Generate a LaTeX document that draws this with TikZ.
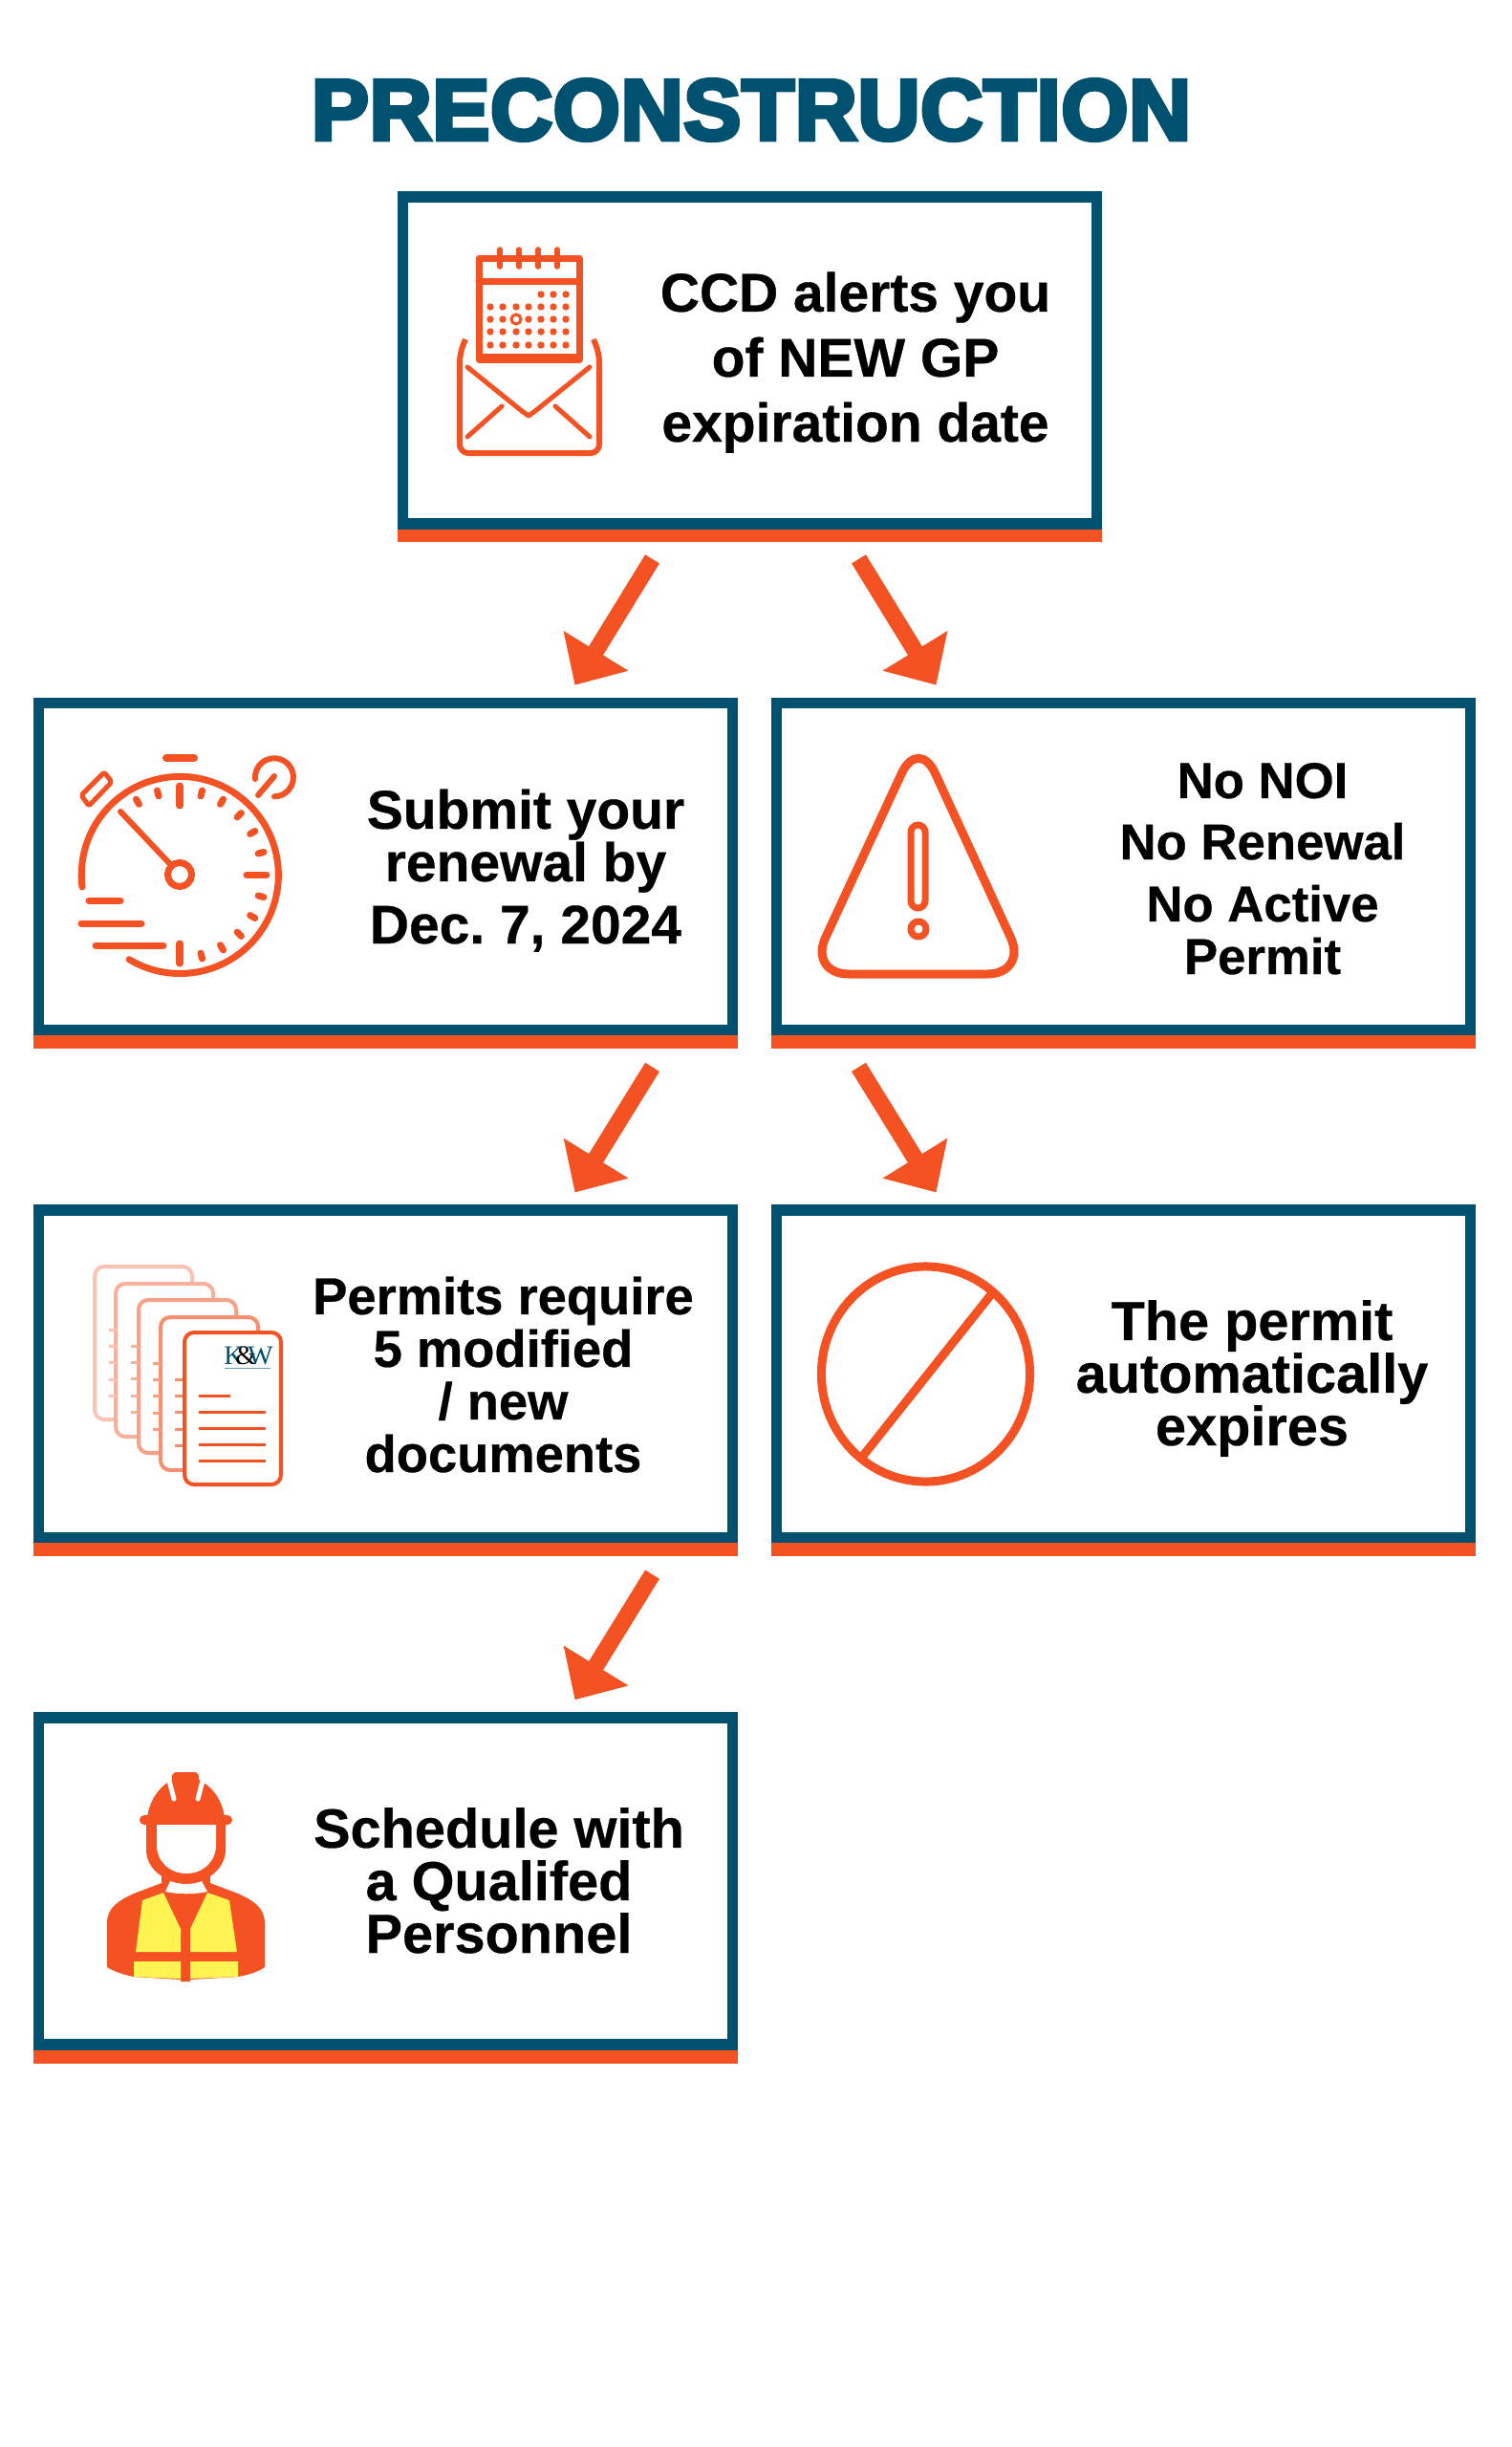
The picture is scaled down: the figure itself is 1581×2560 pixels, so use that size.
\documentclass[tikz,border=0pt]{standalone}
\usepackage{fontspec}
\setmainfont{Liberation Sans}[BoldFeatures={FakeBold=0.5}]
\newfontfamily\titlefont{Liberation Sans}[BoldFeatures={FakeBold=5}, LetterSpace=0.8]
\newfontfamily\logofont{Liberation Serif}
\frenchspacing
\usetikzlibrary{arrows.meta, positioning}
\definecolor{navy}{HTML}{00506F}
\definecolor{flame}{HTML}{F45223}
\definecolor{vest}{HTML}{FFF451}
\tikzset{
  block/.style={rectangle, draw=navy, fill=white, line width=.115cm,
                minimum width=7.255cm, minimum height=3.42cm},
  caption/.style={align=center, inner sep=0pt, anchor=base,
                  font=\fontsize{#1}{15.65}\selectfont\bfseries},
  caption/.default=16.2,
  arrow/.style={-{Triangle[length=.42cm, width=.77cm]}, flame, line width=.175cm},
  icon/.style={flame, line width=.07cm, line cap=round, line join=round}
}

\begin{document}
\begin{tikzpicture}[x=.01cm, y=-.01cm, node distance=1.77cm and .345cm]
\useasboundingbox[fill=white] (0,0) rectangle (1581,2560);

\node[font=\titlefont\fontsize{25.6}{30}\selectfont\bfseries, text=navy, inner sep=0pt, anchor=base] (Title) at (786,146) {PRECONSTRUCTION};

% Row 1: alert
\node[block] (Alert) at (784.5,377) {};

% Row 2: submit + warning
\node[block] (Submit) at (403.5,906.5) {};
\node[block, right=of Submit] (Notice) {};

% Row 3: documents + expired
\node[block, below=of Submit] (Permits) {};
\node[block, below=of Notice] (Expires) {};

% Row 4: personnel
\node[block, below=of Permits] (Schedule) {};

% Orange bar under every block
\foreach \b in {Alert,Submit,Notice,Permits,Expires,Schedule}
  \fill[flame] (\b.south west) rectangle ([yshift=-.135cm]\b.south east);

% --- Captions ---
\node[caption] (AlertText) at (895,462) {CCD alerts you\\[3.7pt] of NEW GP\\[3.7pt] expiration date};
\node[caption] (SubmitText) at (550,987) {Submit your\\ renewal by\\[2.85pt] Dec. 7, 2024};
\node[caption=15] (NoticeText) at (1321,1019) {No NOI\\[2.6pt] No Renewal\\[2.8pt] No Active\\ Permit};
\node[caption=15.45] (PermitsText) at (526.5,1540) {Permits require\\ 5 modified\\ / new\\ documents};
\node[caption=16.4] (ExpiresText) at (1310,1512) {The permit\\ automatically\\ expires};
\node[caption=16.4] (ScheduleText) at (522,2043) {Schedule with\\ a Qualifed\\ Personnel};

% --- Connections ---
% Alert -> Submit, Notice
\draw[arrow] ([shift={(-102,31)}]Alert.south) -- ([shift={(198,-13)}]Submit.north);
\draw[arrow] ([shift={(114,31)}]Alert.south) -- ([shift={(-196,-13)}]Notice.north);

% Submit -> Permits, Notice -> Expires
\draw[arrow] ([shift={(279,33)}]Submit.south) -- ([shift={(198,-13)}]Permits.north);
\draw[arrow] ([shift={(-277,33)}]Notice.south) -- ([shift={(-196,-13)}]Expires.north);

% Permits -> Schedule
\draw[arrow] ([shift={(279,33)}]Permits.south) -- ([shift={(198,-13)}]Schedule.north);

% --- Icons ---
% Calendar and envelope
\draw[icon] (501,270) rectangle (606,376);
\draw[icon] (501,294) -- (606,294);
\draw[icon, line width=.05cm, line cap=butt] (501,372) -- (606,372);
\foreach \x in {523,543,563,583}
  \draw[icon, line width=.055cm] (\x,261) -- (\x,279);
\foreach \x in {566,579,592}
  \fill[flame] (\x,308) circle[radius=.037cm];
\foreach \y in {321,334,347,361}
  \foreach \x in {513,526,540,553,566,579,592}
    \fill[flame] (\x,\y) circle[radius=.037cm];
\fill[white] (540,334) circle[radius=.05cm];
\draw[flame, line width=.03cm] (540,334) circle[radius=.05cm];
\draw[icon, line width=.06cm, line cap=butt, rounded corners=.09cm] (487,355) -- (481,370) -- (481,474) -- (627,474) -- (627,370) -- (621,355);
\draw[icon, line width=.05cm] (489,384) -- (546,430) -- (553,435) -- (560,430) -- (617,384);
\draw[icon, line width=.05cm] (525,425) -- (489,457);
\draw[icon, line width=.05cm] (581,425) -- (617,457);

% Stopwatch
\draw[icon] (86,928) arc[start angle=187, end angle=-121, radius=1.03cm];
\draw[icon] (188,915) circle[radius=.125cm];
\draw[icon, line width=.06cm] (126,849) -- (179,905);
\draw[icon] (188,822) -- (188,843);
\draw[icon] (258,915) -- (279,915);
\draw[icon] (188,987) -- (188,1008);
\foreach \a in {15,30,45,60,75,105,120,-15,-30,-45,-60,-75}
  \draw[icon] ([shift={(\a:.85cm)}]188,915) -- ([shift={(\a:.91cm)}]188,915);
\draw[icon, line width=.08cm] (174,793) -- (203,793);
\draw[icon, line width=.05cm, rounded corners=.02cm] (109,808) -- (117,818) -- (93,843) -- (85,832) -- cycle;
\draw[icon, line width=.06cm] (267,815) arc[start angle=185, end angle=-90, radius=.2cm];
\draw[icon, line width=.06cm] (287,812) -- (270,832);
\draw[icon] (93,942) -- (126,942);
\draw[icon] (85,966) -- (148,966);
\draw[icon] (100,989) -- (171,989);

% Warning triangle
\draw[icon, line width=.09cm, rounded corners=.42cm] (961,771) -- (1075,1019) -- (846,1019) -- cycle;
\draw[icon, rounded corners=.075cm] (953,863) rectangle (968,950);
\draw[icon] (961,972) circle[radius=.08cm];

% Stack of documents
\foreach \dx/\dy/\tint in {99/1325/35, 121/1343/45, 145/1360/55, 168/1378/65}
  \draw[flame!\tint!white, line width=.04cm, fill=white, rounded corners=.1cm] (\dx,\dy) rectangle (\dx+102,\dy+160);
\foreach \x/\y/\tint in {114/1391/35, 137/1408/45, 160/1426/55, 183/1443/65}
  \foreach \i in {0,1,2,3,4}
    \draw[flame!\tint!white, line width=.03cm] (\x,\y+\i*17.4) -- (\x+8,\y+\i*17.4);
\draw[flame, line width=.04cm, fill=white, rounded corners=.1cm] (193,1394) rectangle (294,1553);
\draw[flame, line width=.03cm] (208,1460) -- (241,1460);
\foreach \y in {1477,1494,1511,1528}
  \draw[flame, line width=.03cm] (208,\y) -- (278,\y);
\node[font=\logofont\fontsize{8}{8}\selectfont, text=navy, inner sep=0pt, anchor=base] (Logo) at (260,1427) {K\kern-2.4pt\textcolor{black}{\&}\kern-2.6pt W};
\draw[navy!60, line width=.01cm] (235,1431) -- (283,1431);

% No entry sign
\draw[icon, line width=.09cm] (968.5,1437.5) ellipse[x radius=1.09cm, y radius=1.125cm];
\draw[icon, line width=.09cm, line cap=butt] (1038,1353) -- (903,1523);

% Worker
\fill[flame] (169,1970) -- (140,1981) .. controls (125,1988) and (112,1995) .. (112,2012) -- (112,2058) .. controls (120,2063) and (130,2066) .. (140,2068) -- (189,2071) -- (189,2073) -- (199,2073) -- (199,2071) -- (249,2068) .. controls (260,2066) and (270,2063) .. (277,2058) -- (277,2012) .. controls (277,1995) and (264,1988) .. (249,1981) -- (220,1970) -- cycle;
\fill[flame] (169,1950) rectangle (220,1980);
\fill[flame] (153,1905) -- (153,1935) .. controls (153,1955) and (172,1970) .. (194.5,1970) .. controls (217,1970) and (236,1955) .. (236,1935) -- (236,1905) -- cycle;
\fill[flame, rounded corners=.05cm] (146,1899) rectangle (243,1909);
\fill[flame] (154,1902) .. controls (156,1885) and (165,1870) .. (180,1862) -- (180,1857) -- (183,1854) -- (205,1854) -- (208,1857) -- (208,1862) .. controls (224,1870) and (233,1885) .. (235,1902) -- cycle;
\draw[white, line width=.05cm, line cap=round] (176,1859) -- (182,1882);
\draw[white, line width=.05cm, line cap=round] (213,1859) -- (207,1882);
\fill[white] (164,1909) -- (226,1909) -- (226,1930) .. controls (226,1948) and (212,1960) .. (195,1960) .. controls (178,1960) and (164,1948) .. (164,1930) -- cycle;
\fill[white] (178,1968) .. controls (190,1972) and (200,1972) .. (211,1968) -- (217,1979) .. controls (203,1982) and (187,1982) .. (173,1979) -- cycle;
\fill[vest] (149,1988) -- (171,1980) -- (189,2018) -- (189,2042) -- (142,2042) -- cycle;
\fill[vest] (140,2052) -- (189,2052) -- (189,2070) -- (140,2068) -- cycle;
\fill[vest] (240,1988) -- (217,1980) -- (199,2018) -- (199,2042) -- (248,2042) -- cycle;
\fill[vest] (199,2052) -- (249,2052) -- (249,2068) -- (199,2070) -- cycle;

\end{tikzpicture}
\end{document}
